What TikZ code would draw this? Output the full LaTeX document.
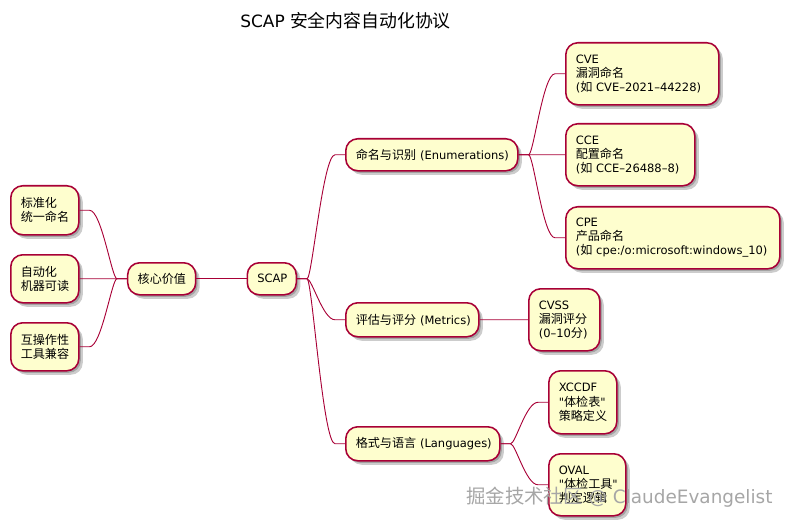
\documentclass[tikz,border=0pt]{standalone}
\usepackage{fontspec}
\setmainfont[Scale=0.95]{DejaVu Sans}
\newfontfamily\zhfont{Noto Sans CJK SC}
\newfontfamily\quotefont[Scale=0.95]{DejaVu Sans}
\newcommand{\zh}[1]{{\zhfont #1}}
\newcommand{\quo}{{\quotefont\symbol{34}}}
\usetikzlibrary{positioning,calc,shadows}
\definecolor{mapline}{HTML}{A80036}
\definecolor{mapfill}{HTML}{FEFECE}
\tikzset{
   topic/.style = {draw=mapline, fill=mapfill, line width=1.1pt, rounded corners=0.3cm,
      inner xsep=0.25cm, inner ysep=0pt, align=left, font=\fontsize{8.6}{10}\selectfont,
      anchor=north west,
      drop shadow={shadow xshift=0.05cm, shadow yshift=-0.05cm, opacity=0.2, fill=black},
      drop shadow={shadow xshift=0.1cm, shadow yshift=-0.1cm, opacity=0.2, fill=black}},
   branch/.style = {mapline, line width=0.65pt},
}
\begin{document}
\begin{tikzpicture}[x=0.025cm,y=-0.025cm]
   \useasboundingbox (0,0) rectangle (789,525);

   % root
   \node[topic, text width=0.725cm, minimum height=0.8cm] (scap) at (246.5,262) {SCAP};

   % left side
   \node[topic, text width=1.2cm, minimum height=0.8cm, left=1.25cm of scap] (core) {\zh{核心价值}};
   \node[topic, text width=1.2cm, minimum height=1.225cm] (std) at (10,185) {\zh{标准化\\统一命名}};
   \node[topic, text width=1.2cm, minimum height=1.2cm] (auto) at (10,254) {\zh{自动化\\机器可读}};
   \node[topic, text width=1.2cm, minimum height=1.2cm] (inter) at (10,322) {\zh{互操作性\\工具兼容}};

   % right side, first level
   \node[topic, text width=3.8cm, minimum height=0.8cm] (enum) at (345,138) {\mbox{\zh{命名与识别} (Enumerations)}};
   \node[topic, text width=2.825cm, minimum height=0.85cm] (metric) at (345,302) {\mbox{\zh{评估与评分} (Metrics)}};
   \node[topic, text width=3.35cm, minimum height=0.85cm] (lang) at (345,426) {\mbox{\zh{格式与语言} (Languages)}};

   % enumerations
   \node[topic, text width=3.325cm, minimum height=1.55cm] (cve) at (565,42) {CVE\\\zh{漏洞命名}\\\mbox{(\zh{如} CVE--2021--44228)}};
   \node[topic, text width=2.725cm, minimum height=1.55cm] (cce) at (565,123) {CCE\\\zh{配置命名}\\\mbox{(\zh{如} CCE--26488--8)}};
   \node[topic, text width=4.85cm, minimum height=1.55cm] (cpe) at (565,206) {CPE\\\zh{产品命名}\\\mbox{(\zh{如} cpe:/o:microsoft:windows\_10)}};

   % metrics
   \node[topic, text width=1.275cm, minimum height=1.55cm] (cvss) at (528,288) {CVSS\\\zh{漏洞评分}\\\mbox{(0--10\zh{分})}};

   % languages
   \node[topic, text width=1.2cm, minimum height=1.575cm] (xccdf) at (548,370) {XCCDF\\\quo\zh{体检表}\quo\\\zh{策略定义}};
   \node[topic, text width=1.425cm, minimum height=1.55cm] (oval) at (548,453) {OVAL\\\quo\zh{体检工具}\quo\\\zh{判定逻辑}};

   % connectors to the right
   \foreach \from/\to in {scap/enum,scap/metric,scap/lang,enum/cve,enum/cce,enum/cpe,
         metric/cvss,lang/xccdf,lang/oval}{
      \draw[branch] (\from.east) -- ++(10,0) coordinate (tip)
         .. controls ($(tip)+(5,0)$) and ($(\to.west)+(-22,0)$) .. ($(\to.west)+(-10,0)$) -- (\to.west);
   }
   % connectors to the left
   \foreach \from/\to in {scap/core,core/std,core/auto,core/inter}{
      \draw[branch] (\from.west) -- ++(-10,0) coordinate (tip)
         .. controls ($(tip)+(-5,0)$) and ($(\to.east)+(22,0)$) .. ($(\to.east)+(10,0)$) -- (\to.east);
   }

   \node[font=\fontsize{12.7}{14}\selectfont, anchor=west, inner sep=0pt] (title) at (240,21) {SCAP \zh{安全内容自动化协议}};
   \node[font=\fontsize{13.8}{16}\selectfont, text=gray!70, anchor=west, inner sep=0pt] (mark) at (466,497) {\zh{掘金技术社区} @ ClaudeEvangelist};
\end{tikzpicture}
\end{document}
